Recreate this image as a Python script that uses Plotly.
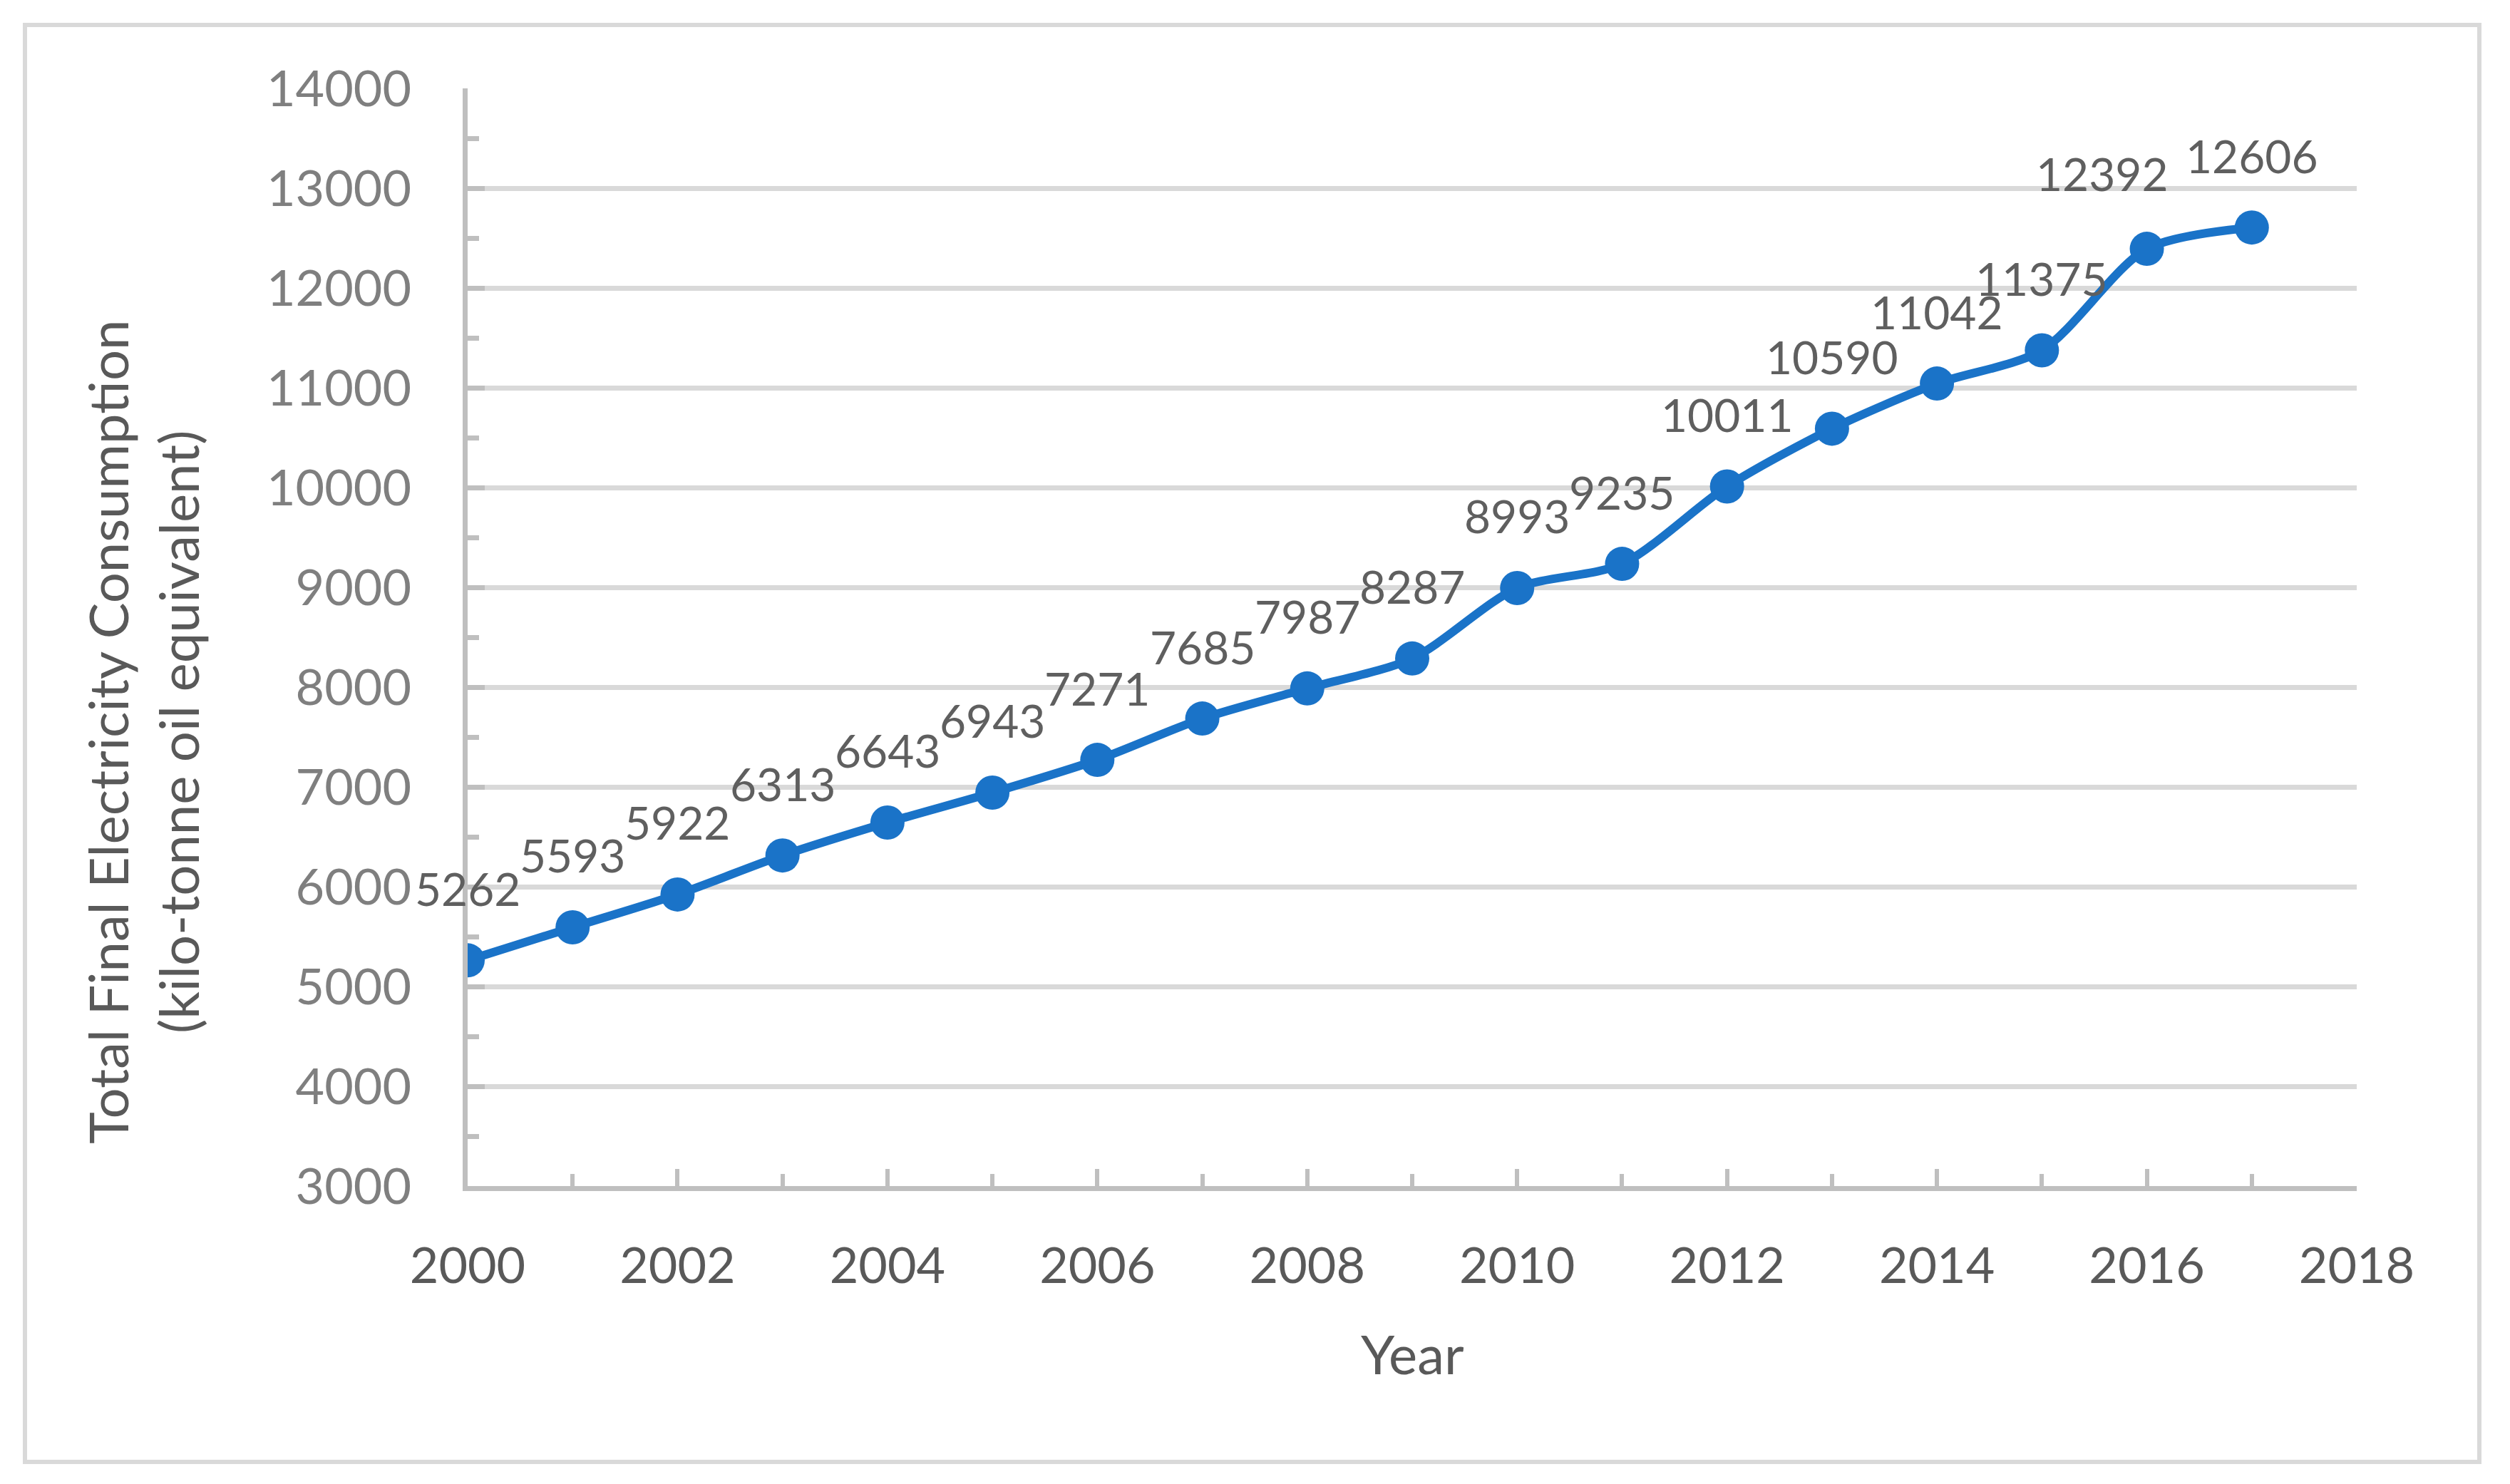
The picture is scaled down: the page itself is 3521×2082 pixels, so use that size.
import plotly.graph_objects as go

years = [2000, 2001, 2002, 2003, 2004, 2005, 2006, 2007, 2008,
         2009, 2010, 2011, 2012, 2013, 2014, 2015, 2016, 2017]
consumption = [5262, 5593, 5922, 6313, 6643, 6943, 7271, 7685, 7987,
               8287, 8993, 9235, 10011, 10590, 11042, 11375, 12392, 12606]
y_title = "Total Final Electricity Consumption<br>(kilo-tonne oil equivalent)"
x_title = "Year"

# label nudges (pixels) for labels moved by hand in the original
label_nudge = {2016: (-63, 5)}

W, H = 3521, 2082
L, R, T, B = 656, 3306, 124, 1664  # plot-area pixel edges
FONT = "Lato, 'Open Sans', sans-serif"
FS = 70
BLUE = "#1A73C8"
GRID = "#D9D9D9"
AXIS = "#BFBFBF"

fig = go.Figure()
fig.add_trace(go.Scatter(
    x=years, y=consumption, mode="lines+markers",
    line=dict(color=BLUE, width=12, shape="spline", smoothing=0.8),
    marker=dict(color=BLUE, size=48),
    hoverinfo="skip", showlegend=False,
))

for xv, yv in zip(years, consumption):
    dx, dy = label_nudge.get(xv, (0, 0))
    fig.add_annotation(x=xv, y=yv, text=str(yv), showarrow=False,
                       xshift=dx, yshift=101 + dy,
                       yanchor="middle", xanchor="center",
                       font=dict(family=FONT, size=64, color="#5F5F5F"))

def px_x(p):
    return (p - L) / (R - L)

def px_y(p):
    return (B - p) / (B - T)

# axis titles
fig.add_annotation(xref="paper", yref="paper", x=px_x(200), y=px_y(1027),
                   text=y_title, textangle=-90, showarrow=False,
                   xanchor="center", yanchor="middle",
                   font=dict(family=FONT, size=76, color="#595959"))
fig.add_annotation(xref="paper", yref="paper", x=0.5, y=px_y(1898),
                   text=x_title, showarrow=False,
                   xanchor="center", yanchor="middle",
                   font=dict(family=FONT, size=76, color="#595959"))

# chart border
fig.add_shape(type="rect", xref="paper", yref="paper",
              x0=px_x(35), x1=px_x(3478), y0=px_y(2051), y1=px_y(35),
              line=dict(color=GRID, width=6), layer="below")

fig.update_xaxes(
    range=[2000, 2018], tick0=2000, dtick=2, showgrid=False,
    showline=True, linecolor=AXIS, linewidth=7,
    ticks="inside", ticklen=24, tickwidth=6, tickcolor=AXIS,
    minor=dict(ticks="inside", ticklen=17, dtick=1, tickwidth=6,
               tickcolor=AXIS, showgrid=False),
    tickfont=dict(family=FONT, size=FS, color="#595959"),
    tickformat="d",
    ticklabelstandoff=45, zeroline=False,
)
fig.update_yaxes(
    range=[3000, 14000], tick0=3000, dtick=1000,
    showgrid=True, gridcolor=GRID, gridwidth=7,
    showline=True, linecolor=AXIS, linewidth=7,
    ticks="inside", ticklen=24, tickwidth=7, tickcolor=AXIS,
    minor=dict(ticks="inside", ticklen=16, dtick=500, tickwidth=7,
               tickcolor=AXIS, showgrid=False),
    tickfont=dict(family=FONT, size=FS, color="#7F7F7F"),
    tickformat="d",
    ticklabelstandoff=58, zeroline=False,
)

fig.update_layout(
    width=W, height=H,
    margin=dict(l=L, r=W - R, t=T, b=H - B, pad=0),
    paper_bgcolor="white", plot_bgcolor="white",
    showlegend=False,
)

fig.write_html("out.html", config={"displayModeBar": False},
               post_script="document.body.style.margin='0';document.body.style.overflow='hidden';")
